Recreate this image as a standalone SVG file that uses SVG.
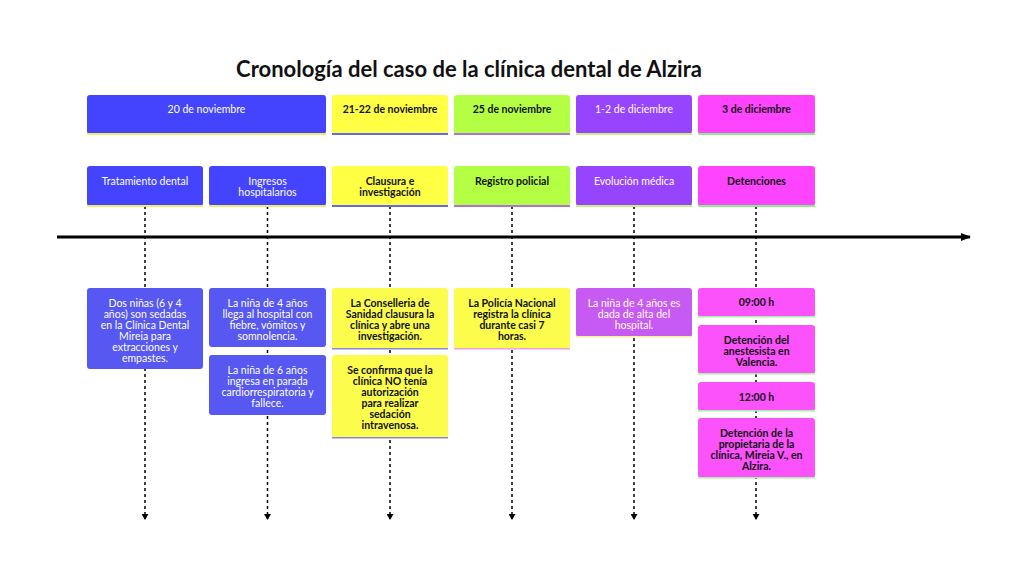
<svg xmlns="http://www.w3.org/2000/svg" width="1024" height="574" viewBox="0 0 1024 574">
<defs>
<marker id="bigArrow" markerWidth="10" markerHeight="8" refX="9" refY="4" orient="auto" markerUnits="userSpaceOnUse"><path d="M0,0 L10,4 L0,8 Z" fill="#000"/></marker>
<marker id="smallArrow" markerWidth="6" markerHeight="7" refX="5" refY="3.5" orient="auto" markerUnits="userSpaceOnUse"><path d="M0,0 L6,3.5 L0,7 Z" fill="#000"/></marker>
<style>
text{font-family:Lato,"Liberation Sans",sans-serif;font-size:10.5px;text-anchor:middle}
.title{font-size:22px;font-weight:bold;fill:#111}
.lt{fill:#fff}
.dk{fill:#111;font-weight:bold}
.dash{stroke:#000;stroke-width:1.5;stroke-dasharray:3,3;fill:none}
.blue{fill:#4444ff}
.yellow{fill:#ffff44}
.green{fill:#b4ff44}
.purple{fill:#9744ff}
.magenta{fill:#ff44ff}
.eblue{fill:#5757f2}
.eyellow{fill:#fcfc4c}
.eviolet{fill:#c75af2}
.emagenta{fill:#fb52fb}
</style>
</defs>
<rect width="1024" height="574" fill="#fff"/>
<text class="title" x="469" y="77">Cronología del caso de la clínica dental de Alzira</text>

<g id="connectors">
<line x1="57" y1="237" x2="970" y2="237" stroke="#000" stroke-width="3" marker-end="url(#bigArrow)"/>
<line class="dash" x1="145" y1="206" x2="145" y2="519" marker-end="url(#smallArrow)"/>
<line class="dash" x1="267.5" y1="206" x2="267.5" y2="519" marker-end="url(#smallArrow)"/>
<line class="dash" x1="390" y1="206" x2="390" y2="519" marker-end="url(#smallArrow)"/>
<line class="dash" x1="512" y1="206" x2="512" y2="519" marker-end="url(#smallArrow)"/>
<line class="dash" x1="634" y1="206" x2="634" y2="519" marker-end="url(#smallArrow)"/>
<line class="dash" x1="756" y1="206" x2="756" y2="519" marker-end="url(#smallArrow)"/>
</g>

<!-- Section headers -->
<g id="sec1"><rect class="blue" x="87" y="95" width="239" height="39" rx="3"/><rect x="87" y="133" width="239" height="2" fill="#eeee66"/><text class="lt" x="206.5" y="113">20 de noviembre</text></g>
<g id="sec2"><rect class="yellow" x="332" y="95" width="116" height="39" rx="3"/><rect x="332" y="133" width="116" height="2" fill="#6666ee"/><text class="dk" x="390" y="113">21-22 de noviembre</text></g>
<g id="sec3"><rect class="green" x="454" y="95" width="116" height="39" rx="3"/><rect x="454" y="133" width="116" height="2" fill="#b070e0"/><text class="dk" x="512" y="113">25 de noviembre</text></g>
<g id="sec4"><rect class="purple" x="576" y="95" width="116" height="39" rx="3"/><rect x="576" y="133" width="116" height="2" fill="#c8f080"/><text class="lt" x="634" y="113">1-2 de diciembre</text></g>
<g id="sec5"><rect class="magenta" x="698" y="95" width="117" height="39" rx="3"/><rect x="698" y="133" width="117" height="2" fill="#88ee88"/><text class="dk" x="756.5" y="113">3 de diciembre</text></g>

<!-- Tasks -->
<g id="task1"><rect class="blue" x="87" y="166" width="116" height="40" rx="3"/><rect x="87" y="205" width="116" height="2" fill="#eeee66"/><text class="lt" x="145" y="185">Tratamiento dental</text></g>
<g id="task2"><rect class="blue" x="209" y="166" width="117" height="40" rx="3"/><rect x="209" y="205" width="117" height="2" fill="#eeee66"/><text class="lt" x="267.5" y="185">Ingresos</text><text class="lt" x="267.5" y="196">hospitalarios</text></g>
<g id="task3"><rect class="yellow" x="332" y="166" width="116" height="40" rx="3"/><rect x="332" y="205" width="116" height="2" fill="#6666ee"/><text class="dk" x="390" y="185">Clausura e</text><text class="dk" x="390" y="196">investigación</text></g>
<g id="task4"><rect class="green" x="454" y="166" width="116" height="40" rx="3"/><rect x="454" y="205" width="116" height="2" fill="#b070e0"/><text class="dk" x="512" y="185">Registro policial</text></g>
<g id="task5"><rect class="purple" x="576" y="166" width="116" height="40" rx="3"/><rect x="576" y="205" width="116" height="2" fill="#c8f080"/><text class="lt" x="634" y="185">Evolución médica</text></g>
<g id="task6"><rect class="magenta" x="698" y="166" width="117" height="40" rx="3"/><rect x="698" y="205" width="117" height="2" fill="#88ee88"/><text class="dk" x="756.5" y="185">Detenciones</text></g>

<!-- Events -->
<g id="ev1"><rect class="eblue" x="87" y="288" width="116" height="81" rx="3"/><text class="lt" x="145"><tspan x="145" y="307">Dos niñas (6 y 4</tspan><tspan x="145" y="318">años) son sedadas</tspan><tspan x="145" y="329">en la Clínica Dental</tspan><tspan x="145" y="340">Mireia para</tspan><tspan x="145" y="351">extracciones y</tspan><tspan x="145" y="362">empastes.</tspan></text></g>
<g id="ev2"><rect class="eblue" x="209" y="288" width="117" height="59" rx="3"/><text class="lt"><tspan x="267.5" y="307">La niña de 4 años</tspan><tspan x="267.5" y="318">llega al hospital con</tspan><tspan x="267.5" y="329">fiebre, vómitos y</tspan><tspan x="267.5" y="340">somnolencia.</tspan></text></g>
<g id="ev3"><rect class="eblue" x="209" y="355" width="117" height="60" rx="3"/><text class="lt"><tspan x="267.5" y="374">La niña de 6 años</tspan><tspan x="267.5" y="385">ingresa en parada</tspan><tspan x="267.5" y="396">cardiorrespiratoria y</tspan><tspan x="267.5" y="407">fallece.</tspan></text></g>
<g id="ev4"><rect class="eyellow" x="332" y="288" width="116" height="61" rx="3"/><rect x="332" y="348" width="116" height="1.5" fill="#8888dd"/><text class="dk"><tspan x="390" y="307">La Conselleria de</tspan><tspan x="390" y="318">Sanidad clausura la</tspan><tspan x="390" y="329">clínica y abre una</tspan><tspan x="390" y="340">investigación.</tspan></text></g>
<g id="ev5"><rect class="eyellow" x="332" y="355" width="116" height="83" rx="3"/><rect x="332" y="437" width="116" height="1.5" fill="#8888dd"/><text class="dk"><tspan x="390" y="374">Se confirma que la</tspan><tspan x="390" y="385">clínica NO tenía</tspan><tspan x="390" y="396">autorización</tspan><tspan x="390" y="407">para realizar</tspan><tspan x="390" y="418">sedación</tspan><tspan x="390" y="429">intravenosa.</tspan></text></g>
<g id="ev6"><rect class="eyellow" x="454" y="288" width="116" height="61" rx="3"/><rect x="454" y="348" width="116" height="1.5" fill="#f0a0e8"/><text class="dk"><tspan x="512" y="307">La Policía Nacional</tspan><tspan x="512" y="318">registra la clínica</tspan><tspan x="512" y="329">durante casi 7</tspan><tspan x="512" y="340">horas.</tspan></text></g>
<g id="ev7"><rect class="eviolet" x="576" y="288" width="116" height="49" rx="3"/><rect x="576" y="336" width="116" height="1.5" fill="#f4f0a0"/><text class="lt"><tspan x="634" y="307">La niña de 4 años es</tspan><tspan x="634" y="318">dada de alta del</tspan><tspan x="634" y="329">hospital.</tspan></text></g>
<g id="ev8"><rect class="emagenta" x="698" y="288" width="117" height="29" rx="3"/><rect x="698" y="316" width="117" height="1.5" fill="#a8f0a8"/><text class="dk" x="756.5" y="306">09:00 h</text></g>
<g id="ev9"><rect class="emagenta" x="698" y="325" width="117" height="49" rx="3"/><rect x="698" y="373" width="117" height="1.5" fill="#a8f0a8"/><text class="dk"><tspan x="756.5" y="344">Detención del</tspan><tspan x="756.5" y="355">anestesista en</tspan><tspan x="756.5" y="366">Valencia.</tspan></text></g>
<g id="ev10"><rect class="emagenta" x="698" y="382" width="117" height="29" rx="3"/><rect x="698" y="410" width="117" height="1.5" fill="#a8f0a8"/><text class="dk" x="756.5" y="401">12:00 h</text></g>
<g id="ev11"><rect class="emagenta" x="698" y="418" width="117" height="60" rx="3"/><rect x="698" y="477" width="117" height="1.5" fill="#a8f0a8"/><text class="dk"><tspan x="756.5" y="437">Detención de la</tspan><tspan x="756.5" y="448">propietaria de la</tspan><tspan x="756.5" y="459">clínica, Mireia V., en</tspan><tspan x="756.5" y="470">Alzira.</tspan></text></g>
</svg>
